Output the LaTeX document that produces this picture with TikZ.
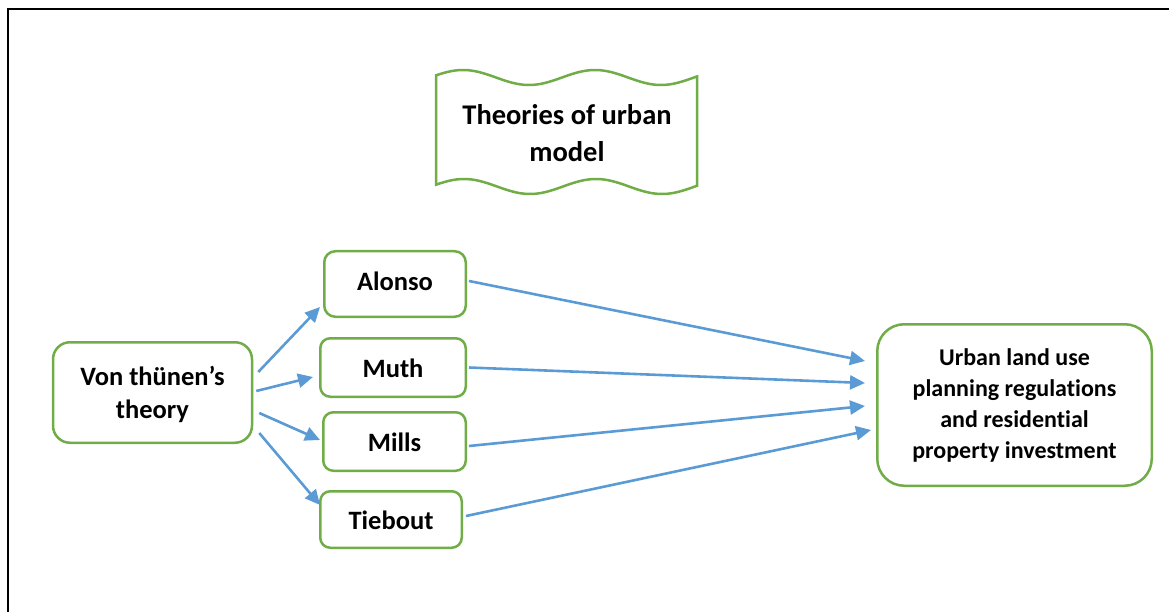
\documentclass[tikz,border=0pt]{standalone}
\usepackage{fontspec}
\setmainfont{Carlito}[Ligatures=NoCommon]
\usetikzlibrary{arrows.meta,calc}
\definecolor{boxgreen}{HTML}{70AD47}
\definecolor{arrowblue}{HTML}{5B9BD5}
\begin{document}
\begin{tikzpicture}[x=1pt,y=-1pt,
  box/.style={draw=boxgreen, line width=2.5pt, fill=white, align=center, inner sep=0pt,
              font=\bfseries\fontsize{26.5}{33}\selectfont},
  smallbox/.style={box, text height=21pt, text depth=2pt, rounded corners=10pt},
  link/.style={draw=arrowblue, line width=2.6pt, -{Triangle[length=15pt,width=14pt]}},
  frame/.style={line width=2.3pt, black, line join=miter}
]
\useasboundingbox (0,0) rectangle (1169,612);

% page frame (top and left rules)
\draw[frame] (7.8,612) -- (7.8,9.3) -- (1169,9.3);

% wavy banner (period 132pt)
\draw[draw=boxgreen, line width=2.5pt, fill=white]
  plot[domain=436:697, samples=90] (\x, {77.5-7.5*cos((\x-463)*2.72727)})
  -- plot[domain=697:436, samples=90] (\x, {186.5-7.5*cos((\x-464)*2.72727)}) -- cycle;
\node[font=\bfseries\fontsize{28.5}{37}\selectfont, align=center, anchor=base]
  (title) at (567,162) {Theories of urban\\model};

% boxes
\node[box, minimum width=199pt, minimum height=100.5pt, rounded corners=17pt,
      text height=53pt, text depth=2pt]
  (von) at (152.5,392.5) {Von thünen’s\\theory};
\node[smallbox, minimum width=141.5pt, minimum height=65.5pt, rounded corners=11pt,
      text height=18pt, text depth=5pt] (alonso) at (395,284) {Alonso};
\node[smallbox, minimum width=145.5pt, minimum height=58.5pt] (muth) at (393,367.5) {Muth};
\node[smallbox, minimum width=142.5pt, minimum height=58.5pt] (mills) at (394.5,441.5) {Mills};
\node[smallbox, minimum width=141.5pt, minimum height=56.5pt] (tiebout) at (391,519.5) {Tiebout};
\node[box, minimum width=274.5pt, minimum height=161.5pt, rounded corners=27pt,
      font=\bfseries\fontsize{24}{31}\selectfont]
  (urban) at (1014.5,405) {Urban land use\\planning regulations\\and residential\\property investment};

% connectors
\draw[link] ([shift={(5,31)}]von.north east) -- ([shift={(-3,-11)}]alonso.south west);
\draw[link] ([shift={(3,50)}]von.north east) -- ([shift={(-6,9.5)}]muth.west);
\draw[link] ([shift={(6,72)}]von.north east) -- ([shift={(-2,-1.5)}]mills.west);
\draw[link] ([shift={(6,92)}]von.north east) -- ([shift={(1,15)}]tiebout.north west);
\draw[link] ([shift={(2,-3)}]alonso.east) -- ([shift={(-11,-44)}]urban.west);
\draw[link] ([shift={(2,0)}]muth.east) -- ([shift={(-11,-22)}]urban.west);
\draw[link] ([shift={(2,4.5)}]mills.east) -- ([shift={(-11,1)}]urban.west);
\draw[link] ([shift={(3,-3.5)}]tiebout.east) -- ([shift={(-5,25)}]urban.west);
\end{tikzpicture}
\end{document}
